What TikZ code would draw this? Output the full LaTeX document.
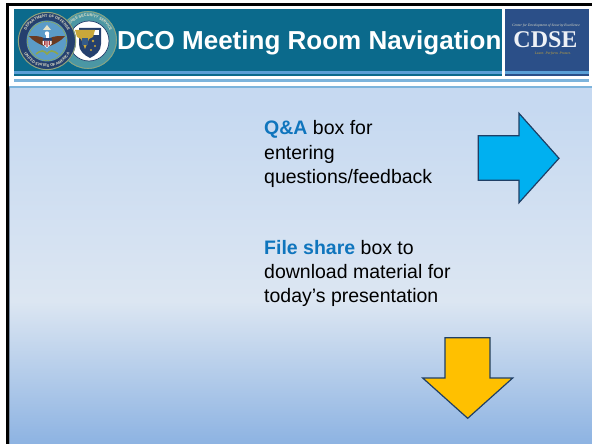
\documentclass[tikz,border=0pt]{standalone}
\usepackage{fontspec}
\setmainfont{Liberation Sans}
\newfontfamily\serifcd{Liberation Serif}
\usetikzlibrary{decorations.text}
\definecolor{teal1}{HTML}{0B6A8C}
\definecolor{strip1}{HTML}{5A9FD6}
\definecolor{strip2}{HTML}{7DB4DC}
\definecolor{cdsebg}{HTML}{2B4F88}
\definecolor{navy}{HTML}{25406E}
\definecolor{linkblue}{HTML}{0F75BD}
\definecolor{edge}{HTML}{1F3F66}
\definecolor{gold}{HTML}{C9A73A}
\definecolor{bgbot}{HTML}{8DB3E2}
\definecolor{bgmid}{HTML}{DCE6F2}
\definecolor{bgtop}{HTML}{C6D9F1}
\definecolor{ringgreen}{HTML}{8FA57E}
\definecolor{ringteal}{HTML}{4B97A4}
\definecolor{sealblue}{HTML}{5B9BC8}
\definecolor{wing}{HTML}{6A3A22}
\definecolor{leaf}{HTML}{8FA64A}
\definecolor{shieldred}{HTML}{A8383C}
\definecolor{cream}{HTML}{E6E2C8}
\definecolor{qaarrow}{HTML}{00B0F0}
\definecolor{filearrow}{HTML}{FFC000}
\pgfdeclareverticalshading{bgshade}{100bp}{
 color(0bp)=(bgbot);
 color(25bp)=(bgbot);
 color(45bp)=(bgmid);
 color(72bp)=(bgtop);
 color(100bp)=(bgtop)}
\tikzset{
 bodytext/.style={font=\fontsize{19.5}{24}\selectfont,text=black,anchor=base west,align=left,inner sep=0pt},
 titletext/.style={font=\fontsize{26}{30}\selectfont\bfseries,text=white,anchor=base west,inner sep=0pt},
 arrowshape/.style={draw=edge,line width=1.2pt,line join=miter},
 cdsesmall/.style={font=\fontsize{3.6}{4}\selectfont\serifcd\itshape,inner sep=0pt},
 ringlabel/.style={decorate,decoration={text along path,text align=center,text={#1}}}
}
\newcommand{\lead}[1]{\textcolor{linkblue}{\bfseries #1}}
\newcommand{\ringfont}{\fontsize{3.8}{4}\selectfont\bfseries}
\begin{document}
\begin{tikzpicture}[x=1pt,y=-1pt]
\useasboundingbox (0,0) rectangle (592,444);
\fill[white] (0,0) rectangle (592,444);
% background gradient
\shade[shading=bgshade] (9,87) rectangle (592,444);
\fill[strip2] (9,86.5) rectangle (592,87.6);
% frame
\fill[black] (6,3.3) rectangle (592,5.7);
\fill[black] (6,3.3) rectangle (8.6,444);
\fill[edge!60] (8.6,87) rectangle (9.6,444);
% header
\fill[teal1] (14,9) rectangle (501.5,76);
\fill[cdsebg] (505,9) rectangle (589,76);
\fill[strip1] (14,71) rectangle (501.5,74);
\fill[strip1] (505,71) rectangle (589,74);
\fill[strip2] (14,79.5) rectangle (589,82);
% Defense Security seal
\begin{scope}[shift={(88,40)},x=1pt,y=1pt]
 \fill[ringteal] (0,0) circle (29);
 \draw[ringgreen,line width=.8pt] (0,0) circle (28.4);
 \path[postaction={ringlabel={|\ringfont\color{cream}|DEFENSE SECURITY SERVICE}}] (165:23.5) arc (165:15:23.5);
 \fill[white] (1,-1) circle (20);
 \draw[navy,line width=.7pt] (1,-1) circle (20);
 % shield body
 \fill[navy] (-9,12) -- (13,12) -- (13,-4) .. controls (13,-11) and (8,-15) .. (2,-18) .. controls (-4,-15) and (-9,-11) .. (-9,-4) -- cycle;
 \fill[white] (-7,10) -- (11,10) -- (11,5) -- (-7,5) -- cycle;
 % gold eagle
 \fill[gold] (-13,10) -- (7,10) -- (5,3) -- (1,1) -- (-3,-9) -- (-7,1) -- (-11,3) -- cycle;
 \fill[navy!70!sealblue] (-6,2) rectangle (0,-5);
 \fill[gold] (5,-1) circle (1.4) (7,-6) circle (1.2) (3,-10) circle (1.2);
\end{scope}
% Department of Defense seal
\begin{scope}[shift={(47,41)},x=1pt,y=1pt]
 \fill[navy] (0,0) circle (29);
 \draw[ringgreen,line width=1pt] (0,0) circle (28.6);
 \path[postaction={ringlabel={|\ringfont\color{cream}|DEPARTMENT OF DEFENSE}}] (170:23.5) arc (170:10:23.5);
 \path[postaction={ringlabel={|\ringfont\color{cream}|UNITED STATES OF AMERICA}}] (205:26) arc (205:335:26);
 \fill[sealblue] (0,0) circle (20.5);
 \draw[leaf,line width=.8pt,dash pattern=on 1pt off .6pt] (0,0) circle (19.5);
 % wings
 \fill[wing] (-18,5) .. controls (-12,5) and (-7,5) .. (-3,3) -- (-3,-5) .. controls (-8,-3) and (-14,0) .. (-18,5) -- cycle;
 \fill[wing] (18,5) .. controls (12,5) and (7,5) .. (3,3) -- (3,-5) .. controls (8,-3) and (14,0) .. (18,5) -- cycle;
 % head
 \fill[white] (-1.5,1) -- (1.5,1) -- (1.5,7) -- (-1.5,7) -- cycle;
 \fill[white] (0,7.5) circle (2.2);
 \fill[cream] (-4,11) -- (4,11) -- (0,16) -- cycle;
 % shield
 \fill[navy] (-4.5,3) rectangle (4.5,0);
 \fill[white] (-4.5,0) -- (4.5,0) -- (4.5,-3) -- (0,-7) -- (-4.5,-3) -- cycle;
 \fill[shieldred] (-3,0) rectangle (-1.5,-4.5) (-.6,0) rectangle (.6,-6) (1.5,0) rectangle (3,-4.5);
 % laurel
 \draw[leaf,line width=1.6pt] (-11,-13) .. controls (-6,-9) and (-3,-9) .. (0,-13) .. controls (3,-9) and (6,-9) .. (11,-13);
\end{scope}
% title
\node[titletext] (title) at (117,50) {DCO Meeting Room Navigation};
% CDSE logo
\node[font=\fontsize{24}{25}\selectfont\serifcd\bfseries,text=white!92!cdsebg,inner sep=0pt,anchor=base] (cdse) at (545.5,48) {CDSE};
\node[cdsesmall,text=cream,anchor=base] (cdsetop) at (546,26.5) {Center for Development of Security Excellence};
\node[cdsesmall,text=gold,anchor=base] (cdsebot) at (553,54.5) {Learn. Perform. Protect.};
% body text
\node[bodytext] (qa1) at (264,135) {\lead{Q\&A} box for};
\node[bodytext] (qa2) at (264,159) {entering};
\node[bodytext] (qa3) at (264,183) {questions/feedback};
\node[bodytext] (fs1) at (264,254) {\lead{File share} box to};
\node[bodytext] (fs2) at (264,278) {download material for};
\node[bodytext] (fs3) at (264,302) {today’s presentation};
% arrows
\draw[arrowshape,fill=qaarrow]
 (478.3,135.7) -- (519,135.7) -- (519,113.3) -- (559,158.3) -- (519,202.7) -- (519,180.3) -- (478.3,180.3) -- cycle;
\draw[arrowshape,fill=filearrow]
 (445,337.7) -- (490,337.7) -- (490,378) -- (512.7,378) -- (467.7,418.3) -- (422.7,378) -- (445,378) -- cycle;
\end{tikzpicture}
\end{document}
